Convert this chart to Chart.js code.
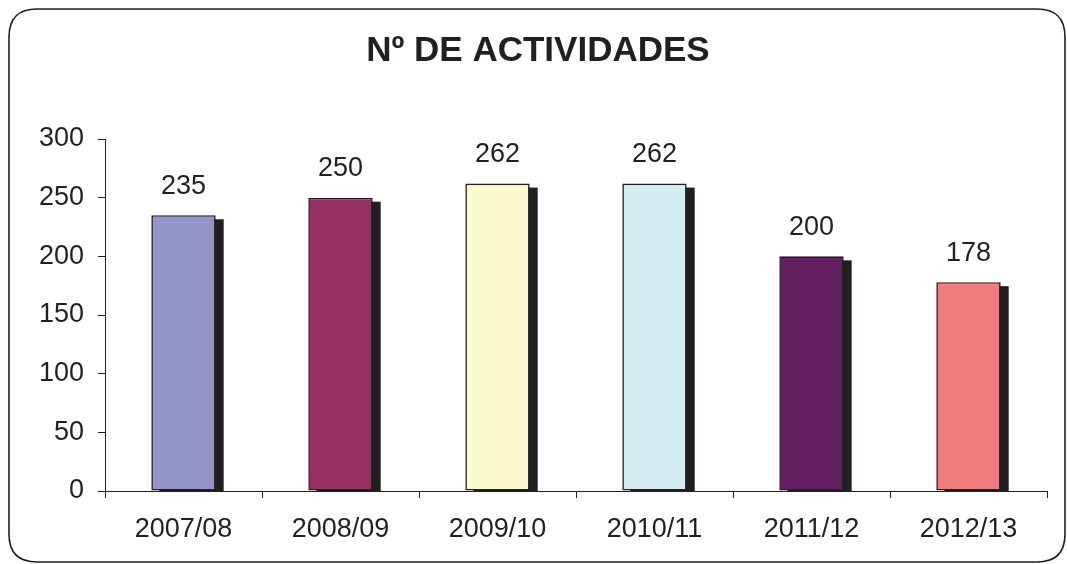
<!DOCTYPE html>
<html>
<head>
<meta charset="utf-8">
<script src="https://cdn.jsdelivr.net/npm/chart.js@4.4.0/dist/chart.umd.min.js"></script>
<style>
html,body{margin:0;padding:0;background:#fff;}
#wrap{width:1067px;height:564px;position:relative;}
</style>
</head>
<body>
<div id="wrap"><canvas id="c" width="1067" height="564"></canvas></div>
<script>
const titleText = "Nº DE ACTIVIDADES";
const categories = ["2007/08", "2008/09", "2009/10", "2010/11", "2011/12", "2012/13"];
const activities = [235, 250, 262, 262, 200, 178];
const barColors = ["#9494C8", "#963162", "#FBF9CE", "#D3ECF2", "#631F5F", "#F07C7E"];
const yTicks = [0, 50, 100, 150, 200, 250, 300];

const FONT = "'Liberation Sans', Arial, sans-serif";
const INK = "#231F20";

const framePlugin = {
  id: 'frame',
  beforeDraw(chart) {
    const ctx = chart.ctx;
    ctx.save();
    ctx.fillStyle = '#fff';
    ctx.fillRect(0, 0, chart.width, chart.height);
    const x = 9, y = 9, w = 1056, h = 553, r = 28;
    ctx.beginPath();
    ctx.moveTo(x + r, y);
    ctx.lineTo(x + w - r, y);
    ctx.quadraticCurveTo(x + w, y, x + w, y + r);
    ctx.lineTo(x + w, y + h - r);
    ctx.quadraticCurveTo(x + w, y + h, x + w - r, y + h);
    ctx.lineTo(x + r, y + h);
    ctx.quadraticCurveTo(x, y + h, x, y + h - r);
    ctx.lineTo(x, y + r);
    ctx.quadraticCurveTo(x, y, x + r, y);
    ctx.closePath();
    ctx.lineWidth = 1.6;
    ctx.strokeStyle = INK;
    ctx.stroke();
    ctx.fillStyle = INK;
    ctx.font = "bold 35px " + FONT;
    ctx.textAlign = 'center';
    ctx.textBaseline = 'middle';
    ctx.fillText(titleText, 538, 51);
    ctx.restore();
  }
};

const shadowPlugin = {
  id: 'barShadow',
  beforeDatasetsDraw(chart) {
    const ctx = chart.ctx;
    const area = chart.chartArea;
    const meta = chart.getDatasetMeta(0);
    ctx.save();
    ctx.beginPath();
    ctx.rect(area.left, area.top - 50, area.right - area.left, area.bottom - area.top + 50);
    ctx.clip();
    ctx.fillStyle = INK;
    meta.data.forEach(bar => {
      const p = bar.getProps(['x', 'y', 'base', 'width'], true);
      const left = p.x - p.width / 2 + 8;
      ctx.fillRect(left, p.y + 4, p.width, p.base - p.y);
    });
    ctx.restore();
  },
  afterDatasetsDraw(chart) {
    const ctx = chart.ctx;
    const meta = chart.getDatasetMeta(0);
    const ds = chart.data.datasets[0];
    ctx.save();
    ctx.fillStyle = INK;
    ctx.font = "27px " + FONT;
    ctx.textAlign = 'center';
    ctx.textBaseline = 'middle';
    meta.data.forEach((bar, i) => {
      const p = bar.getProps(['x', 'y'], true);
      ctx.fillText(String(ds.data[i]), p.x, p.y - 29);
    });
    ctx.restore();
  }
};

new Chart(document.getElementById('c'), {
  type: 'bar',
  data: {
    labels: categories,
    datasets: [{
      data: activities,
      backgroundColor: barColors,
      borderColor: '#231F20',
      borderWidth: 1.6,
      borderSkipped: false,
      barPercentage: 0.41,
      categoryPercentage: 1.0
    }]
  },
  options: {
    responsive: false,
    animation: false,
    devicePixelRatio: 1,
    layout: { padding: { left: 0, right: 20, top: 139, bottom: 0 } },
    plugins: {
      legend: { display: false },
      title: { display: false },
      tooltip: { enabled: false }
    },
    scales: {
      x: {
        offset: true,
        grid: { display: true, offset: true, drawOnChartArea: false, drawTicks: true, tickLength: 7, color: INK, lineWidth: 1 },
        border: { display: true, color: INK, width: 1 },
        ticks: { color: INK, font: { family: FONT, size: 27 }, padding: 15, maxRotation: 0 },
        afterFit(scale) { scale.height = 73; }
      },
      y: {
        min: 0, max: 300,
        afterBuildTicks(scale) { scale.ticks = yTicks.map(v => ({ value: v })); },
        grid: { display: true, drawOnChartArea: false, drawTicks: true, tickLength: 7, color: INK, lineWidth: 1 },
        border: { display: true, color: INK, width: 1 },
        ticks: { color: INK, font: { family: FONT, size: 27 }, padding: 14 },
        afterFit(scale) { scale.width = 105; }
      }
    }
  },
  plugins: [framePlugin, shadowPlugin]
});
</script>
</body>
</html>
